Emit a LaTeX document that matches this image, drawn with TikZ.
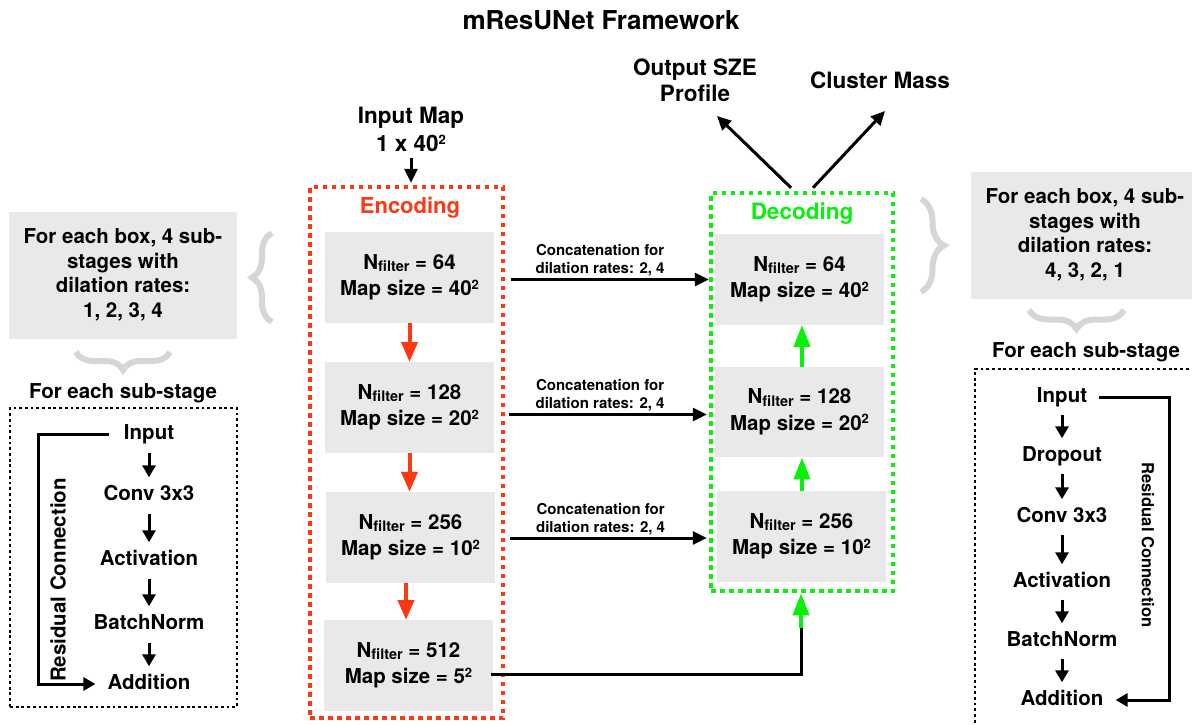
\documentclass[tikz,border=0pt]{standalone}
\usepackage{fontspec}
\setmainfont{TeX Gyre Heros}
\usetikzlibrary{arrows.meta,decorations.pathreplacing,calc}
\definecolor{encred}{RGB}{255,56,20}
\definecolor{decgreen}{RGB}{10,240,10}
\definecolor{boxg}{RGB}{233,233,233}
\definecolor{braceg}{RGB}{214,214,214}
\newcommand{\fsz}[2]{\fontsize{#1}{#2}\selectfont}
\newcommand{\mainf}{\fsz{20.5}{24.5}\bfseries}
\newcommand{\boxf}{\fsz{20.5}{26.5}\bfseries}
\newcommand{\Nfl}[1]{N\raisebox{-2.5pt}{\fsz{14.5}{14.5}filter} = #1}
\newcommand{\sqr}{\raisebox{6.5pt}{\fsz{13}{13}2}}
\tikzset{
 txt/.style={font=\mainf, align=center, inner sep=0pt},
 item/.style={font=\mainf, inner sep=0pt, text height=15pt, text depth=4pt},
 gbox/.style={fill=boxg, minimum width=169pt, minimum height=90.5pt, font=\boxf, align=center, inner sep=0pt},
 infobox/.style={fill=boxg, minimum width=228pt, minimum height=127pt, font=\mainf, align=center, inner sep=0pt},
 reddot/.style={draw=encred, line width=4.5pt, dash pattern=on 4.5pt off 4.5pt},
 grndot/.style={draw=decgreen, line width=4.5pt, dash pattern=on 4.5pt off 4.5pt},
 blkdot/.style={draw=black, line width=2.7pt, dash pattern=on 2.8pt off 2.9pt},
 blkarr/.style={draw=black, line width=3pt, -{Triangle[length=14pt,width=13pt]}},
 redarr/.style={draw=encred, line width=4pt, -{Triangle[length=20pt,width=16pt]}},
 grnarr/.style={draw=decgreen, line width=4pt, -{Triangle[length=22pt,width=16pt]}},
 subarr/.style={draw=black, line width=3pt, -{Triangle[length=12pt,width=13pt]}},
 gbrace/.style={draw=braceg, line width=6pt, decorate, decoration={brace, amplitude=#1}},
 concat/.style={font=\fsz{15}{18}\bfseries, align=center, inner sep=0pt},
}
\begin{document}
\begin{tikzpicture}[x=1pt,y=-1pt]
\useasboundingbox (0,0) rectangle (1192,725);
\clip (0,0) rectangle (1192,725);

% title and input
\node[txt, font=\fsz{26}{30}\bfseries] (title) at (601,20.5) {mResUNet Framework};
\node[txt, font=\fsz{22.5}{28}\bfseries] (imap) at (411,129) {Input Map\\1 x 40\sqr};

% encoding
\node[reddot, minimum width=193pt, minimum height=531pt] (enc) at (406.5,452.5) {};
\node[txt, text=encred, font=\fsz{22}{26}\bfseries] (enclab) at (410,208) {Encoding};
\node[gbox] (e1) at (409.5,277.25) {\Nfl{64}\\Map size = 40\sqr};
\node[gbox] (e2) at (409.5,407.5) {\Nfl{128}\\Map size = 20\sqr};
\node[gbox] (e3) at (410.5,537.25) {\Nfl{256}\\Map size = 10\sqr};
\node[gbox] (e4) at (408.5,665.5) {\Nfl{512}\\Map size = 5\sqr};

% decoding
\node[grndot, minimum width=182pt, minimum height=398pt] (dec) at (802,392) {};
\node[txt, text=decgreen, font=\fsz{22.5}{26}\bfseries] (declab) at (802,214) {Decoding};
\node[gbox] (d1) at (799.5,279.5) {\Nfl{64}\\Map size = 40\sqr};
\node[gbox] (d2) at (799.5,412) {\Nfl{128}\\Map size = 20\sqr};
\node[gbox] (d3) at (801.5,536.5) {\Nfl{256}\\Map size = 10\sqr};

% outputs
\node[txt, font=\fsz{22.5}{26}\bfseries] (outp) at (695,80) {Output SZE\\Profile};
\node[txt, font=\fsz{22.5}{26}\bfseries] (mass) at (880,80) {Cluster Mass};
\coordinate (outtip) at (717,116);
\coordinate (masstip) at (885,111);

% connectors
\draw[blkarr, shorten <=6pt, shorten >=2pt] (imap.south) -- (imap.south |- enc.north);
\draw[redarr] (e1.south) -- (e2.north);
\draw[redarr] (e2.south) -- (e2.south |- e3.north);
\draw[redarr] ([xshift=-4.5pt]e3.south) -- ([xshift=-4.5pt]e3.south |- e4.north);
\draw[blkarr] ($(e1.east |- d1.west)+(17,0)$) -- node[concat, pos=0.45, above=1.5pt] (c1) {Concatenation for\\dilation rates: 2, 4} (dec.west |- d1.west);
\draw[blkarr] ($(e2.east |- d2.west)+(15,2.5)$) -- node[concat, pos=0.46, above=1.5pt] (c2) {Concatenation for\\dilation rates: 2, 4} ($(dec.west |- d2.west)+(-2,2.5)$);
\draw[blkarr] ($(e3.east |- d3.west)+(15,1.5)$) -- node[concat, pos=0.46, above=1.5pt] (c3) {Concatenation for\\dilation rates: 2, 4} ($(dec.west |- d3.west)+(-2,1.5)$);
\draw[grnarr] (d3.north -| dec.center) -- (d2.south -| dec.center);
\draw[grnarr] (d2.north -| dec.center) -- (d1.south -| dec.center);
\coordinate (gbase) at (801,628);
\draw[line width=3pt] ($(e4.east)+(-2,8.5)$) -| (gbase);
\draw[grnarr] (gbase) -- (gbase |- dec.south);
\draw[blkarr] ([xshift=-11pt,yshift=3pt]dec.north) -- (outtip);
\draw[blkarr] ([xshift=11pt,yshift=3pt]dec.north) -- (masstip);

% left side
\node[infobox] (linfo) at (123,275) {For each box, 4 sub-\\stages with\\dilation rates:\\1, 2, 3, 4};
\draw[gbrace=20] (272,322) -- (272,233);
\draw[gbrace=18] (170,352) -- (76,352);
\node[txt] (lsub) at (123,393) {For each sub-stage};
\node[blkdot, minimum width=227pt, minimum height=299pt] (lbox) at (123.5,557.5) {};
\node[item] (li1) at (149,434) {Input};
\node[item] (li2) at (149,495) {Conv 3x3};
\node[item] (li3) at (149,560) {Activation};
\node[item] (li4) at (149,624) {BatchNorm};
\node[item] (li5) at (149,684) {Addition};
\foreach \a/\b in {li1/li2,li2/li3,li3/li4,li4/li5}
  \draw[subarr, shorten <=9pt, shorten >=8pt] (\a.south) -- (\b.north);
\draw[subarr] ([xshift=-15pt]li1.west) -- ++(-70,0) |- ([xshift=-12pt]li5.west);
\node[txt, rotate=90] (lres) at (58,580) {Residual Connection};

% right side
\node[infobox] (rinfo) at (1085,235) {For each box, 4 sub-\\stages with\\dilation rates:\\4, 3, 2, 1};
\draw[gbrace=23] (921,199) -- (921,292);
\draw[gbrace=19] (1124,310) -- (1029,310);
\node[txt] (rsub) at (1086,352) {For each sub-stage};
\draw[blkdot] (1200,369) -- (975,369) -- (975,730);
\node[item] (ri1) at (1062,397) {Input};
\node[item] (ri2) at (1062,456) {Dropout};
\node[item] (ri3) at (1062,517) {Conv 3x3};
\node[item] (ri4) at (1062,582) {Activation};
\node[item] (ri5) at (1062,641) {BatchNorm};
\node[item] (ri6) at (1062,700) {Addition};
\foreach \a/\b in {ri1/ri2,ri2/ri3,ri3/ri4,ri4/ri5,ri5/ri6}
  \draw[subarr, shorten <=8pt, shorten >=8pt] (\a.south) -- (\b.north);
\draw[subarr] ([xshift=12pt]ri1.east) -- ++(70,0) |- ([xshift=12pt]ri6.east);
\node[txt, font=\fsz{16.6}{20}\bfseries, rotate=-90] (rres) at (1148,545) {Residual Connection};
\end{tikzpicture}
\end{document}
